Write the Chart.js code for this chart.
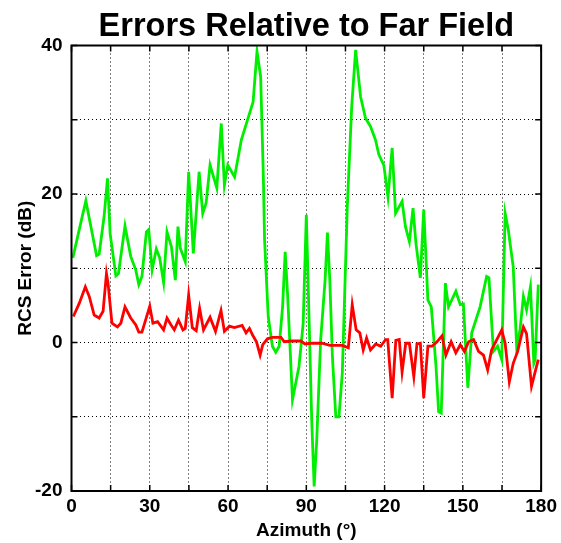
<!DOCTYPE html>
<html>
<head>
<meta charset="utf-8">
<script src="https://cdn.jsdelivr.net/npm/chart.js@4"></script>
<style>
  html, body { margin: 0; padding: 0; background: #fff; }
  #wrap { width: 561px; height: 543px; }
</style>
</head>
<body>
<div id="wrap"><canvas id="myChart" width="561" height="543"></canvas></div>
<script>
const greenAz = [
  0.5, 5.5, 9.6, 10.6, 12.5, 13.8, 14.8, 17.0, 18.0, 20.5, 22.7, 24.6, 25.8, 27.0, 28.7, 29.6,
  30.9, 32.5, 33.8, 35.3, 36.6, 38.3, 39.8, 40.8, 41.7, 43.6, 44.9, 46.7, 48.9, 50.3, 51.6, 53.1,
  55.7, 57.4, 58.6, 59.9, 62.5, 65.1, 69.6, 71.1, 72.5, 73.5, 74.0, 75.4, 77.0, 78.3, 79.6, 80.9,
  81.9, 82.8, 84.7, 87.2, 88.8, 90.0, 91.1, 92.1, 93.0, 94.0, 95.5, 97.2, 98.1, 99.0, 100.0, 101.3,
  102.5, 103.8, 105.7, 107.4, 108.9, 110.8, 112.7, 114.6, 116.5, 117.8, 119.7, 121.3, 122.9, 124.2,
  126.7, 128.0, 129.5, 130.9, 132.0, 133.7, 135.0, 136.6, 137.9, 139.7, 140.7, 141.7, 143.3, 144.5,
  147.3, 149.0, 150.2, 151.9, 153.4, 156.6, 159.1, 160.0, 161.7, 163.3, 164.9, 166.2, 167.4, 169.3,
  170.6, 171.9, 173.2, 174.4, 175.9, 177.2, 177.7, 178.9
]
const greenDb = [
  11.4, 19.1, 11.7, 11.9, 17.0, 22.1, 14.7, 9.0, 9.3, 15.7, 11.6, 9.8, 7.8, 8.9, 14.9, 15.2,
  9.8, 12.6, 11.4, 8.1, 14.9, 12.9, 8.4, 15.6, 12.7, 10.9, 23.0, 12.0, 23.0, 17.4, 18.8, 23.9,
  20.8, 29.5, 21.2, 23.9, 22.3, 27.3, 32.4, 39.2, 35.8, 22.8, 13.8, 3.5, -0.5, -1.3, -0.5, 4.8,
  12.2, 6.6, -7.7, -3.2, 2.6, 17.2, 2.6, -10.8, -19.4, -13.1, 0.4, 8.4, 14.8, 8.4, -1.9, -10.0,
  -10.0, -4.1, 18.3, 31.8, 39.4, 33.1, 30.2, 29.1, 27.3, 25.3, 23.9, 19.6, 26.2, 17.4,
  19.0, 15.6, 13.6, 18.1, 13.4, 8.7, 17.9, 5.7, 4.8, -3.2, -9.3, -9.5, 8.0, 4.8,
  6.9, 5.1, 5.2, -6.1, 1.3, 4.8, 8.9, 8.7, -1.2, -0.5, -2.3, 17.4, 15.2, 10.2,
  -0.5, 1.7, 6.2, 4.4, 7.5, -2.8, -2.3, 7.8
]
const redAz = [
  0.7, 3.0, 5.3, 6.8, 8.7, 10.6, 12.1, 13.4, 14.0, 15.5, 17.6, 18.9, 20.5, 22.7, 24.6, 25.8,
  27.0, 30.0, 31.2, 33.0, 35.3, 36.6, 38.1, 39.4, 41.0, 42.7, 43.6, 44.9, 46.3, 47.8, 49.1, 50.6,
  53.1, 55.2, 57.3, 58.6, 60.5, 62.4, 65.4, 66.9, 68.2, 69.4, 70.9, 72.3, 73.3, 75.1, 77.0, 80.3,
  81.5, 84.1, 87.9, 89.5, 91.7, 94.9, 96.0, 99.0, 103.8, 106.1, 107.6, 109.1, 110.5, 111.8, 113.1,
  114.6, 116.6, 118.5, 120.4, 121.2, 122.9, 124.3, 125.6, 126.7, 128.1, 129.5, 131.2, 132.4, 133.7,
  135.0, 136.6, 138.2, 140.1, 142.0, 143.5, 145.5, 147.3, 149.0, 150.6, 152.2, 154.1, 156.0, 157.9,
  159.5, 161.0, 163.0, 164.9, 166.2, 167.8, 169.3, 171.0, 173.2, 174.4, 176.3, 177.6, 178.9
]
const redDb = [
  3.5, 5.3, 7.5, 6.2, 3.7, 3.3, 4.2, 9.3, 8.0, 2.6, 2.1, 2.6, 4.8, 3.3, 2.4, 1.4,
  1.4, 4.9, 2.6, 2.8, 1.7, 3.3, 2.4, 1.7, 3.0, 1.7, 1.9, 6.4, 2.0, 1.6, 4.6, 1.7,
  3.4, 1.5, 4.3, 1.5, 2.2, 2.0, 2.3, 1.3, 1.9, 1.0, 0.1, -1.7, -0.3, 0.5, 0.7, 0.7,
  0.1, 0.2, 0.2, -0.2, -0.1, -0.1, -0.1, -0.4, -0.4, -0.7, 5.1, 1.7, 1.3, -1.0, 0.6,
  -1.0, -0.2, -0.5, 0.4, 0.4, -7.5, 0.3, 0.4, -4.0, -0.1, -0.1, -4.6, -0.2, -0.1,
  -7.5, -0.5, -0.5, 0.1, 0.9, -1.7, 0.1, -1.4, -0.3, -1.2, 0.1, 0.4, -1.2, -1.7,
  -3.7, -1.0, 0.4, 1.7, -0.1, -5.3, -2.8, -1.2, 2.1, 1.2, -5.9, -4.1, -2.3
]
const xTickLabels = [0, 30, 60, 90, 120, 150, 180]
const yTickLabels = [-20, 0, 20, 40]

const font = 'Liberation Sans, Arial, sans-serif'

function toPoints (az, db) {
  return az.map((a, i) => ({ x: a, y: db[i] }))
}

// box round the plot plus the little inward tick marks
const frame = {
  id: 'frame',
  afterDatasetsDraw (chart) {
    const { ctx, chartArea: a, scales } = chart
    const len = 6
    ctx.save()
    ctx.strokeStyle = '#000'
    ctx.lineWidth = 1.5
    ctx.beginPath()
    for (let v = 0; v <= 180; v += 15) {
      const px = scales.x.getPixelForValue(v)
      ctx.moveTo(px, a.bottom); ctx.lineTo(px, a.bottom - len)
      ctx.moveTo(px, a.top); ctx.lineTo(px, a.top + len)
    }
    for (let v = -20; v <= 40; v += 10) {
      const py = scales.y.getPixelForValue(v)
      ctx.moveTo(a.left, py); ctx.lineTo(a.left + len, py)
      ctx.moveTo(a.right, py); ctx.lineTo(a.right - len, py)
    }
    ctx.stroke()
    ctx.lineWidth = 2
    ctx.strokeRect(a.left, a.top, a.right - a.left, a.bottom - a.top)
    ctx.restore()
  }
}

const ctx = document.getElementById('myChart')

const config = {
  type: 'line',
  data: {
    datasets: [{
      label: 'red',
      data: toPoints(redAz, redDb),
      borderColor: '#ff0000',
      borderWidth: 2.8,
      pointRadius: 0,
      tension: 0
    }, {
      label: 'green',
      data: toPoints(greenAz, greenDb),
      borderColor: '#00ee00',
      borderWidth: 2.8,
      pointRadius: 0,
      tension: 0
    }]
  },
  options: {
    responsive: false,
    animation: false,
    layout: { padding: { left: 0, right: 18, top: 0, bottom: 0 } },
    plugins: {
      legend: { display: false },
      tooltip: { enabled: false },
      title: {
        display: true,
        fullSize: false,
        text: 'Errors Relative to Far Field',
        color: '#000',
        font: { family: font, size: 32.5, weight: 'bold', lineHeight: 1 },
        padding: { top: 11, bottom: 2 }
      }
    },
    scales: {
      x: {
        type: 'linear',
        min: 0,
        max: 180,
        afterFit: (s) => { s.height = 52 },
        ticks: {
          stepSize: 15,
          autoSkip: false,
          maxRotation: 0,
          padding: 4,
          color: '#000',
          font: { family: font, size: 19, weight: 'bold' },
          callback: (v) => xTickLabels.includes(v) ? String(v) : ''
        },
        grid: { color: '#000', lineWidth: 1, drawTicks: false },
        border: { display: false, dash: [1, 3] },
        title: {
          display: true,
          text: 'Azimuth (°)',
          color: '#000',
          font: { family: font, size: 19, weight: 'bold', lineHeight: 1.2 },
          padding: { top: 0, bottom: 1 }
        }
      },
      y: {
        min: -20,
        max: 40,
        afterFit: (s) => { s.width = 71.5 },
        ticks: {
          stepSize: 10,
          autoSkip: false,
          padding: 9,
          color: '#000',
          font: { family: font, size: 19, weight: 'bold' },
          callback: (v) => yTickLabels.includes(v) ? String(v) : ''
        },
        grid: { color: '#000', lineWidth: 1, drawTicks: false },
        border: { display: false, dash: [1, 3] },
        title: {
          display: true,
          text: 'RCS Error (dB)',
          color: '#000',
          font: { family: font, size: 19, weight: 'bold', lineHeight: 1.2 },
          padding: { top: 14, bottom: 0 }
        }
      }
    }
  },
  plugins: [frame]
}

const chart = new Chart(ctx, config)
</script>
</body>
</html>
